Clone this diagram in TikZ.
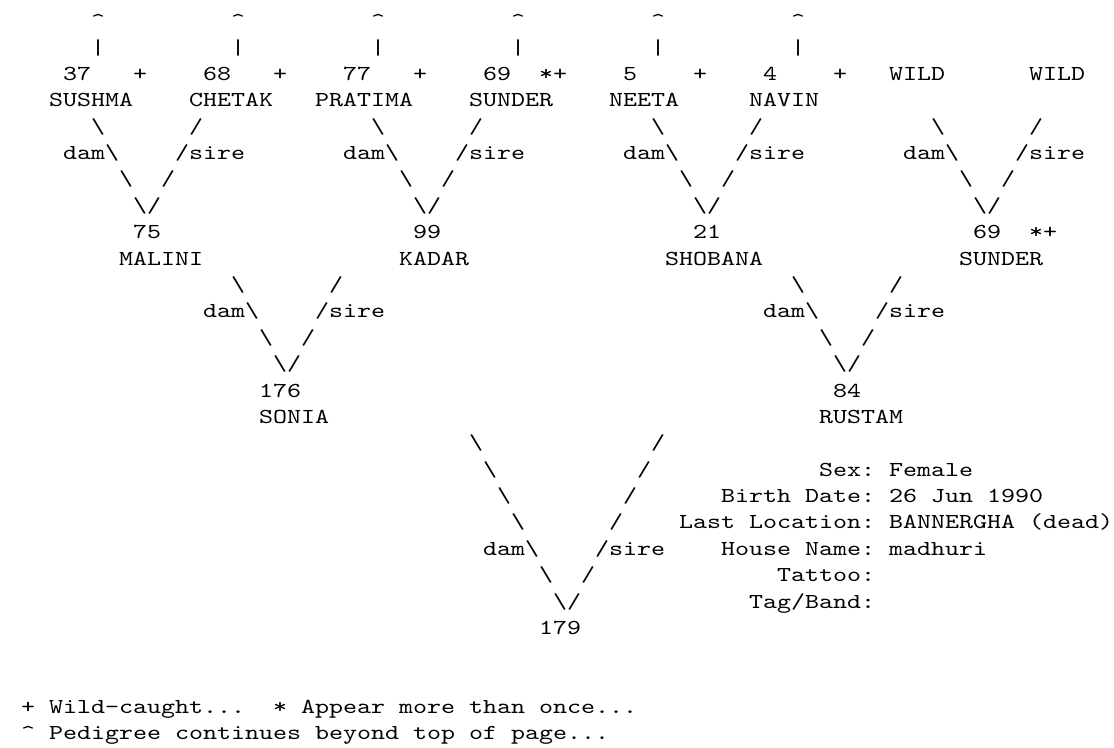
\documentclass[tikz,border=0pt]{standalone}
\usepackage{fontspec}
\newfontfamily\pedfont[FakeStretch=1.25]{lmmono10-regular.otf}
\newcommand\pedtext{\pedfont\fontsize{16pt}{19.8pt}\selectfont\frenchspacing}
\newcommand\bsl{\textbackslash}

\begin{document}
\begin{tikzpicture}[
  x=10.5pt, y=-19.785pt,
  cell/.style = {anchor=base west, inner sep=0pt, outer sep=0pt, font=\pedtext},
]
\useasboundingbox (0,0) rectangle (79.571,28.317);
\begin{scope}[shift={(0.5,0.05)}]

% lines running off the top of the page
\foreach \c in {6,16,...,56} {
  \node[cell] (up\c) at (\c,1) {\textasciicircum};
  \node[cell] (bar\c) at (\c,2) {|};
}

% great-grandparents
\node[cell] (n37) at (4,3) {37};
\node[cell] (w37) at (9,3) {+};
\node[cell] (n68) at (14,3) {68};
\node[cell] (w68) at (19,3) {+};
\node[cell] (n77) at (24,3) {77};
\node[cell] (w77) at (29,3) {+};
\node[cell] (n69) at (34,3) {69};
\node[cell] (w69) at (38,3) {*+};
\node[cell] (n5) at (44,3) {5};
\node[cell] (w5) at (49,3) {+};
\node[cell] (n4) at (54,3) {4};
\node[cell] (w4) at (59,3) {+};
\node[cell] (wilda) at (63,3) {WILD};
\node[cell] (wildb) at (73,3) {WILD};

\node[cell] (sushma) at (3,4) {SUSHMA};
\node[cell] (chetak) at (13,4) {CHETAK};
\node[cell] (pratima) at (22,4) {PRATIMA};
\node[cell] (sunder) at (33,4) {SUNDER};
\node[cell] (neeta) at (43,4) {NEETA};
\node[cell] (navin) at (53,4) {NAVIN};

% dam/sire branches to grandparents
\foreach \c [count=\i] in {0,20,40,60} {
  \node[cell] (gd\i) at (\c+6,5) {\bsl};
  \node[cell] (gs\i) at (\c+13,5) {/};
  \node[cell] (gdam\i) at (\c+4,6) {dam\bsl};
  \node[cell] (gsire\i) at (\c+12,6) {/sire};
  \node[cell] (gdd\i) at (\c+8,7) {\bsl};
  \node[cell] (gss\i) at (\c+11,7) {/};
  \node[cell] (gv\i) at (\c+9,8) {\bsl/};
}

% grandparents
\node[cell] (n75) at (9,9) {75};
\node[cell] (n99) at (29,9) {99};
\node[cell] (n21) at (49,9) {21};
\node[cell] (n69b) at (69,9) {69};
\node[cell] (w69b) at (73,9) {*+};

\node[cell] (malini) at (8,10) {MALINI};
\node[cell] (kadar) at (28,10) {KADAR};
\node[cell] (shobana) at (47,10) {SHOBANA};
\node[cell] (sunderb) at (68,10) {SUNDER};

% dam/sire branches to parents
\foreach \c [count=\i] in {10,50} {
  \node[cell] (pd\i) at (\c+6,11) {\bsl};
  \node[cell] (ps\i) at (\c+13,11) {/};
  \node[cell] (pdam\i) at (\c+4,12) {dam\bsl};
  \node[cell] (psire\i) at (\c+12,12) {/sire};
  \node[cell] (pdd\i) at (\c+8,13) {\bsl};
  \node[cell] (pss\i) at (\c+11,13) {/};
  \node[cell] (pv\i) at (\c+9,14) {\bsl/};
}

% parents
\node[cell] (n176) at (18,15) {176};
\node[cell] (n84) at (59,15) {84};
\node[cell] (sonia) at (18,16) {SONIA};
\node[cell] (rustam) at (58,16) {RUSTAM};

% dam/sire branches to the animal
\foreach \r [count=\i from 0] in {17,...,20} {
  \node[cell] (ad\r) at (33+\i,\r) {\bsl};
  \node[cell] (as\r) at (46-\i,\r) {/};
}
\node[cell] (adam) at (34,21) {dam\bsl};
\node[cell] (asire) at (42,21) {/sire};
\node[cell] (ad22) at (38,22) {\bsl};
\node[cell] (as22) at (41,22) {/};
\node[cell] (av) at (39,23) {\bsl/};
\node[cell] (n179) at (38,24) {179};

% animal record
\node[cell] (ksex) at (58,18) {Sex:};
\node[cell] (vsex) at (63,18) {Female};
\node[cell] (kbirth) at (51,19) {Birth Date:};
\node[cell] (vbirth) at (63,19) {26 Jun 1990};
\node[cell] (kloc) at (48,20) {Last Location:};
\node[cell] (vloc) at (63,20) {BANNERGHA (dead)};
\node[cell] (khouse) at (51,21) {House Name:};
\node[cell] (vhouse) at (63,21) {madhuri};
\node[cell] (ktattoo) at (55,22) {Tattoo:};
\node[cell] (ktag) at (53,23) {Tag/Band:};

% legend
\node[cell] (keywild) at (1,27) {+ Wild-caught...};
\node[cell] (keytwice) at (19,27) {* Appear more than once...};
\node[cell] (keyup) at (1,28) {\textasciicircum{} Pedigree continues beyond top of page...};

\end{scope}
\end{tikzpicture}
\end{document}
